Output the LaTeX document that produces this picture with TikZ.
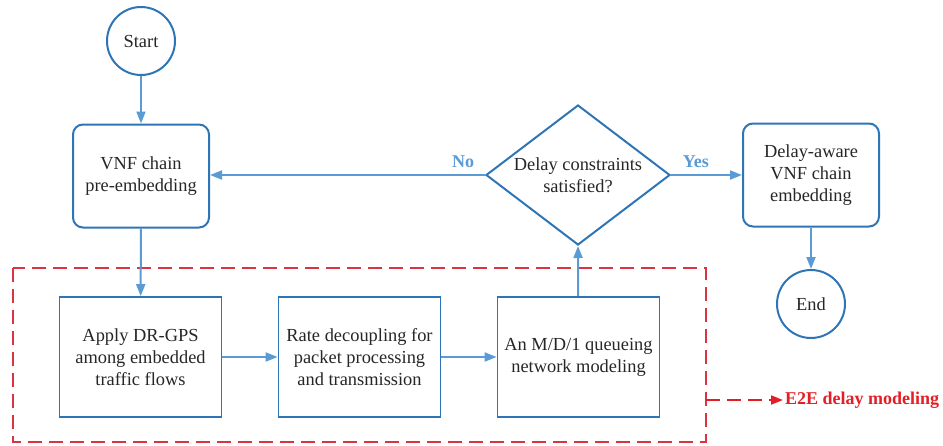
\documentclass[tikz,border=0pt]{standalone}
\usepackage{fontspec}
\setmainfont{Liberation Serif}
\usetikzlibrary{shapes.geometric,arrows.meta}
\definecolor{boxblue}{HTML}{2E75B6}
\definecolor{arrblue}{HTML}{5B9BD5}
\definecolor{dashred}{HTML}{D9343F}
\definecolor{txtred}{HTML}{E21F26}
\definecolor{txt}{HTML}{262626}
\begin{document}
\begin{tikzpicture}[x=1pt,y=-1pt,
  every node/.style={font=\fontsize{18.4}{22}\selectfont, text=txt, align=center},
  circ/.style={circle, draw=boxblue, line width=2pt, minimum size=68pt, inner sep=0},
  rbox/.style={rectangle, rounded corners=10pt, draw=boxblue, line width=2pt, minimum width=136pt, minimum height=103pt, inner sep=0},
  sbox/.style={rectangle, draw=boxblue, line width=1.8pt, minimum width=162pt, minimum height=120pt, inner sep=0},
  conn/.style={draw=arrblue, line width=2pt, -{Triangle[length=12pt,width=9pt]}},
  lab/.style={font=\fontsize{18}{20}\selectfont\bfseries, text=arrblue}
]
\useasboundingbox (0,0) rectangle (943,445);
\node[circ] (start) at (141,41) {Start};
\node[rbox] (vnf) at (141,176) {VNF chain\\pre-embedding};
\node[diamond, draw=boxblue, line width=2pt, minimum width=184pt, minimum height=140pt, inner sep=0] (dec) at (578,175) {};
\node at (dec) {Delay constraints\\satisfied?};
\node[rbox] (aware) at (811,175) {Delay-aware\\VNF chain\\embedding};
\node[circ] (end) at (811,304) {End};
\node[sbox] (apply) at (140.5,357) {Apply DR-GPS\\among embedded\\traffic flows};
\node[sbox] (rate) at (359.5,357) {Rate decoupling for\\packet processing\\and transmission};
\node[sbox] (md1) at (578.5,357) {An M/D/1 queueing\\network modeling};
\draw[dashred, line width=2pt, dash pattern=on 14pt off 7pt] (13,268) rectangle (706,442);
\coordinate (rb) at (706,400);
\coordinate (e2e) at (783,400);
\draw[dashred, line width=2pt, dash pattern=on 14pt off 7pt, -{Triangle[length=12pt,width=9pt]}, txtred] (rb) -- (e2e);
\node[anchor=west, font=\fontsize{18}{20}\selectfont\bfseries, text=txtred, inner sep=2pt] (e2etext) at (e2e) {E2E delay modeling};
\draw[conn] (start) -- (vnf);
\draw[conn] (vnf) -- (apply);
\draw[conn] (apply) -- (rate);
\draw[conn] (rate) -- (md1);
\draw[conn] (md1) -- (dec.south);
\draw[conn] (dec.west) -- (vnf.east |- dec.west) node[pos=0.08, above=3pt, lab] (no) {No};
\draw[conn] (dec.east) -- (aware.west |- dec.east) node[pos=0.35, above=3pt, lab] (yes) {Yes};
\draw[conn] (aware) -- (end);
\end{tikzpicture}
\end{document}
